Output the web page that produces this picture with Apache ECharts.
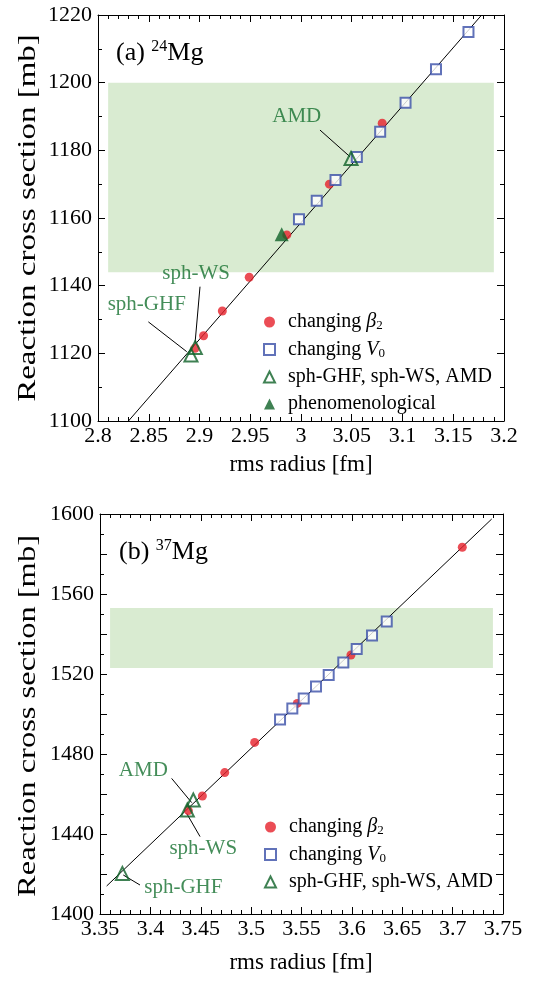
<!DOCTYPE html>
<html>
<head>
<meta charset="utf-8">
<script src="https://cdn.jsdelivr.net/npm/echarts@6/dist/echarts.min.js"></script>
<style>html,body{margin:0;padding:0;background:#fff;}#c{width:537px;height:983px;}</style>
</head>
<body>
<div id="c"></div>
<script>
// ---------- Panel (a) 24Mg ----------
const aBeta2R      = [3.080, 3.028, 2.986, 2.949, 2.9225, 2.904, 2.8956];
const aBeta2Sigma  = [1188.0, 1170.0, 1155.0, 1142.5, 1132.5, 1125.2, 1121.5];
const aV0R         = [3.165, 3.133, 3.103, 3.078, 3.055, 3.034, 3.0155, 2.998];
const aV0Sigma     = [1215.0, 1204.0, 1194.1, 1185.5, 1178.0, 1171.2, 1165.1, 1159.6];
const aModelNames  = ['sph-GHF', 'sph-WS', 'AMD'];
const aModelR      = [2.8916, 2.8959, 3.0493];
const aModelSigma  = [1119.5, 1121.7, 1177.6];
const aPhenoR      = [2.981];
const aPhenoSigma  = [1155.2];
const aFitR        = [2.83, 3.178];
const aFitSigma    = [1100, 1220];
const aBandR       = [2.81, 3.19];
const aBandSigma   = [1144, 1200];
const aLabelR      = [2.848, 2.8966, 2.9958];
const aLabelSigma  = [1134.3, 1143.6, 1189.9];
const aLeadFromR   = [2.8496, 2.9005, 3.0187];
const aLeadFromS   = [1129.3, 1139.7, 1186.0];
const aLeadToR     = [2.8874, 2.8956, 3.0483];
const aLeadToS     = [1120.5, 1123.0, 1178.1];
const aXTicks = {min: 2.8, max: 3.2, step: 0.05};
const aYTicks = {min: 1100, max: 1220, step: 20};

// ---------- Panel (b) 37Mg ----------
const bBeta2R      = [3.7096, 3.5991, 3.5458, 3.5035, 3.4738, 3.4516, 3.4377];
const bBeta2Sigma  = [1583.4, 1529.5, 1505.3, 1485.8, 1470.7, 1459.0, 1451.7];
const bV0R         = [3.6346, 3.620, 3.6048, 3.5915, 3.577, 3.5644, 3.5522, 3.5409, 3.5287];
const bV0Sigma     = [1546.2, 1539.2, 1532.5, 1525.8, 1519.5, 1513.7, 1507.8, 1502.8, 1497.3];
const bModelNames  = ['sph-GHF', 'sph-WS', 'AMD'];
const bModelR      = [3.3722, 3.4367, 3.4426];
const bModelSigma  = [1420.3, 1452.0, 1457.0];
const bFitR        = [3.3566, 3.7388];
const bFitSigma    = [1414, 1597.5];
const bBandR       = [3.36, 3.74];
const bBandSigma   = [1523, 1553];
const bLabelR      = [3.4327, 3.4525, 3.393];
const bLabelSigma  = [1413.3, 1432.8, 1472.0];
const bLeadFromR   = [3.3897, 3.4493, 3.4211];
const bLeadFromS   = [1414.5, 1438.7, 1467.8];
const bLeadToR     = [3.3731, 3.436, 3.441];
const bLeadToS     = [1419.5, 1450.3, 1455.7];
const bXTicks = {min: 3.35, max: 3.75, step: 0.05};
const bYTicks = {min: 1400, max: 1600, step: 20, labelStep: 40};

const X_TITLE = 'rms radius [fm]';
const Y_TITLE = 'Reaction cross section [mb]';
const NAME_B2 = 'changing β2', NAME_V0 = 'changing V0', NAME_MOD = 'sph-GHF, sph-WS, AMD', NAME_PH = 'phenomenological';
const FONT = '"Liberation Serif", "DejaVu Serif", serif';
const RED = '#e6202a', BLUE = '#3a4fa8', GREEN = '#0f6228', TGREEN = '#157030', BAND = '#d9ebd1';

const zip = (xs, ys) => xs.map((x, i) => [x, ys[i]]);
const serifRich = {t: {fontFamily: FONT, fontSize: 22, color: '#000'}};

function axisPair(gi, t, isX, labelStep) {
  const common = {
    gridIndex: gi, type: 'value', min: t.min, max: t.max, interval: t.step,
    axisLine: {show: true, onZero: false, lineStyle: {color: '#000', width: 1}},
    axisTick: {show: true, inside: true, length: 7, lineStyle: {color: '#000', width: 1}},
    minorTick: {show: true, splitNumber: isX ? 5 : 2, length: 4, lineStyle: {color: '#000', width: 1}},
    splitLine: {show: false}
  };
  const main = Object.assign({}, common, {
    position: isX ? 'bottom' : 'left',
    axisLabel: {show: true, color: '#000', fontFamily: FONT, fontSize: 22, margin: isX ? 4 : 6, rich: serifRich,
      formatter: v => (labelStep && Math.round(v) % labelStep !== 0) ? '' : '{t|' + String(+(+v).toFixed(2)) + '}'}
  });
  const mirror = Object.assign({}, common, {position: isX ? 'top' : 'right', axisLabel: {show: false}});
  return [main, mirror];
}

function panelSeries(xi, yi, d) {
  const ax = {xAxisIndex: xi, yAxisIndex: yi};
  const s = [];
  s.push(Object.assign({type: 'line', name: 'band', silent: true, z: 0, data: [], symbol: 'none',
    markArea: {silent: true, itemStyle: {color: BAND}, data: [[{coord: [d.bandR[0], d.bandS[1]]}, {coord: [d.bandR[1], d.bandS[0]]}]]}}, ax));
  s.push(Object.assign({type: 'line', name: 'fit', silent: true, z: 1, symbol: 'none',
    data: zip(d.fitR, d.fitS), lineStyle: {color: '#000', width: 1}}, ax));
  s.push(Object.assign({type: 'lines', coordinateSystem: 'cartesian2d', name: 'leaders', silent: true, z: 2,
    lineStyle: {color: '#000', width: 1, opacity: 1},
    data: d.leadFromR.map((r, i) => ({coords: [[r, d.leadFromS[i]], [d.leadToR[i], d.leadToS[i]]]}))}, ax));
  s.push(Object.assign({type: 'scatter', name: NAME_B2, z: 3, symbol: 'circle', symbolSize: 9,
    itemStyle: {color: RED}, data: zip(d.b2R, d.b2S)}, ax));
  s.push(Object.assign({type: 'scatter', name: NAME_V0, z: 4, symbol: 'rect', symbolSize: 10,
    itemStyle: {color: '#fff', borderColor: BLUE, borderWidth: 2}, data: zip(d.v0R, d.v0S)}, ax));
  s.push(Object.assign({type: 'scatter', name: NAME_MOD, z: 5, symbol: 'triangle', symbolSize: 13,
    itemStyle: {color: 'rgba(255,255,255,0)', borderColor: GREEN, borderWidth: 2}, data: zip(d.modR, d.modS)}, ax));
  if (d.phR) {
    s.push(Object.assign({type: 'scatter', name: NAME_PH, z: 5, symbol: 'triangle', symbolSize: 14,
      itemStyle: {color: GREEN}, data: zip(d.phR, d.phS)}, ax));
  }
  s.push(Object.assign({type: 'scatter', name: 'labels', silent: true, z: 6, symbolSize: 1,
    itemStyle: {color: 'rgba(0,0,0,0)'},
    label: {show: true, position: 'inside', formatter: '{b}', color: TGREEN, fontFamily: FONT, fontSize: 21},
    data: d.labR.map((r, i) => ({name: d.names[i], value: [r, d.labS[i]]}))}, ax));
  return s;
}

const legendFormatter = n => '{g| }' + (n === NAME_B2 ? 'changing {it|β}{sub|2}' : (n === NAME_V0 ? 'changing {it|V}{sub|0}' : n));
const legendText = {color: '#000', fontFamily: FONT, fontSize: 20,
  rich: {g: {width: 8, fontSize: 20},
         it: {fontFamily: FONT, fontStyle: 'italic', fontSize: 20, color: '#000'},
         sub: {fontFamily: FONT, fontSize: 13, color: '#000', verticalAlign: 'bottom', padding: [8, 0, 0, 0]}}};

const xa = axisPair(0, aXTicks, true), ya = axisPair(0, aYTicks, false);
const xb = axisPair(1, bXTicks, true), yb = axisPair(1, bYTicks, false, bYTicks.labelStep);

const titleStyle = {fontFamily: FONT, fill: '#000', align: 'center', verticalAlign: 'middle'};
const option = {
  animation: false,
  backgroundColor: '#fff',
  textStyle: {fontFamily: FONT},
  grid: [
    {left: 98, top: 15, width: 406, height: 406},
    {left: 100, top: 514, width: 403, height: 400}
  ],
  xAxis: [xa[0], xa[1], xb[0], xb[1]],
  yAxis: [ya[0], ya[1], yb[0], yb[1]],
  legend: [
    {orient: 'vertical', left: 258, top: 307, itemWidth: 11, itemHeight: 11, itemGap: 7,
     data: [NAME_B2, NAME_V0, NAME_MOD, NAME_PH], formatter: legendFormatter, textStyle: legendText, selectedMode: false},
    {orient: 'vertical', left: 259, top: 812, itemWidth: 11, itemHeight: 11, itemGap: 7,
     data: [NAME_B2, NAME_V0, NAME_MOD], formatter: legendFormatter, textStyle: legendText, selectedMode: false}
  ],
  graphic: [
    {type: 'text', left: 116, top: 39, silent: true,
     style: {text: '{n|(a) }{sup|24}{n|Mg}', rich: {n: {fontFamily: FONT, fontSize: 26, fill: '#000', lineHeight: 28}, sup: {fontFamily: FONT, fontSize: 16, fill: '#000', verticalAlign: 'top', lineHeight: 28}}}},
    {type: 'text', left: 119, top: 538, silent: true,
     style: {text: '{n|(b) }{sup|37}{n|Mg}', rich: {n: {fontFamily: FONT, fontSize: 26, fill: '#000', lineHeight: 28}, sup: {fontFamily: FONT, fontSize: 16, fill: '#000', verticalAlign: 'top', lineHeight: 28}}}},
    {type: 'text', x: 28, y: 218, rotation: Math.PI / 2, scaleX: 1.27, silent: true,
     style: Object.assign({text: Y_TITLE, fontSize: 26}, titleStyle)},
    {type: 'text', x: 28, y: 716, rotation: Math.PI / 2, scaleX: 1.25, silent: true,
     style: Object.assign({text: Y_TITLE, fontSize: 26}, titleStyle)},
    {type: 'text', x: 301, y: 465, silent: true,
     style: Object.assign({text: X_TITLE, fontSize: 23}, titleStyle)},
    {type: 'text', x: 301, y: 963, silent: true,
     style: Object.assign({text: X_TITLE, fontSize: 23}, titleStyle)}
  ],
  series: [].concat(
    panelSeries(0, 0, {bandR: aBandR, bandS: aBandSigma, fitR: aFitR, fitS: aFitSigma,
      leadFromR: aLeadFromR, leadFromS: aLeadFromS, leadToR: aLeadToR, leadToS: aLeadToS,
      b2R: aBeta2R, b2S: aBeta2Sigma, v0R: aV0R, v0S: aV0Sigma, modR: aModelR, modS: aModelSigma,
      phR: aPhenoR, phS: aPhenoSigma, labR: aLabelR, labS: aLabelSigma, names: aModelNames}),
    panelSeries(2, 2, {bandR: bBandR, bandS: bBandSigma, fitR: bFitR, fitS: bFitSigma,
      leadFromR: bLeadFromR, leadFromS: bLeadFromS, leadToR: bLeadToR, leadToS: bLeadToS,
      b2R: bBeta2R, b2S: bBeta2Sigma, v0R: bV0R, v0S: bV0Sigma, modR: bModelR, modS: bModelSigma,
      labR: bLabelR, labS: bLabelSigma, names: bModelNames})
  )
};
const chart = echarts.init(document.getElementById('c'), null, {renderer: 'canvas'});
chart.setOption(option);
</script>
</body>
</html>
